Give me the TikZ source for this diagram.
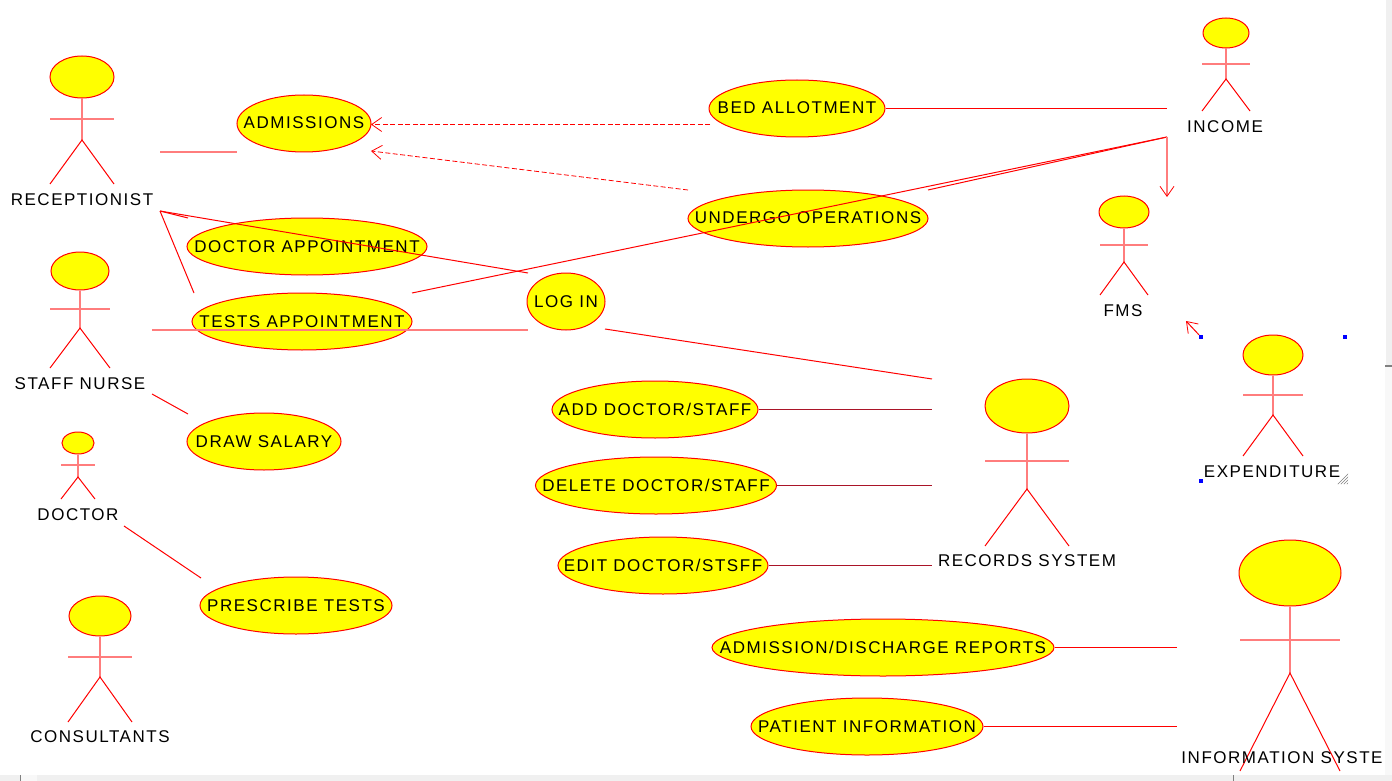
\documentclass[tikz,border=0pt]{standalone}
\usepackage{fontspec}
\setmainfont{Liberation Sans}[LetterSpace=9]
\usetikzlibrary{shapes.geometric,arrows.meta,patterns}
\definecolor{ucred}{RGB}{255,0,0}
\definecolor{ucpink}{RGB}{255,125,125}
\definecolor{ucyellow}{RGB}{255,255,0}
\definecolor{ucdark}{RGB}{170,20,40}
\definecolor{ucblue}{RGB}{0,0,255}
\definecolor{barfill}{RGB}{240,240,240}
\definecolor{barlight}{RGB}{248,248,248}
\tikzset{
  usecase/.style={ellipse,draw=ucred,fill=ucyellow,line width=1pt,inner sep=0pt},
  actorname/.style={inner sep=0pt,text=black},
  wire/.style={ucred,line width=1pt},
  softwire/.style={ucpink,line width=1.6pt},
  darkwire/.style={ucdark,line width=0.8pt},
  dashwire/.style={ucred,line width=0.8pt,dash pattern=on 5pt off 2.5pt},
  openhead/.style={-{Straight Barb[length=10pt,width=14pt,line width=0.8pt,ucred]}},
  handle/.style={fill=ucblue,draw=none,minimum size=4pt,inner sep=0pt}
}
\newcommand{\uclabel}[1]{\raisebox{-5.5pt}[0pt][0pt]{\makebox[0pt]{#1}}}
\newcommand{\actorfig}[9]{% name, x, head y, head rx, head ry, half width, arm y, hip y, feet y
  \node[usecase,minimum width=#4*2pt,minimum height=#5*2pt] (#1) at (#2,#3) {};
  \draw[softwire] (#1.south) -- (#2,#8) (#2-#6,#7) -- (#2+#6,#7);
  \draw[wire] (#2-#6,#9) -- (#2,#8) -- (#2+#6,#9);
}
\begin{document}
\begin{tikzpicture}[x=1pt,y=-1pt,font=\fontsize{17}{20}\selectfont]
  \useasboundingbox (0,0) rectangle (1392,781);
  % window bars
  \fill[barfill] (0,775) rectangle (1392,781);
  \fill[barlight] (20,775) rectangle (37,781);
  \fill[barfill] (1386,0) rectangle (1392,366);
  \fill[barlight] (1385,366) rectangle (1392,775);
  \draw[gray,line width=1.2pt] (1385,366) -- (1392,366);
  \draw[gray,line width=1pt] (20,775) -- (20,781) (1233,775) -- (1233,781);
  % actors
  \actorfig{receptionist}{82}{77}{32}{21}{32}{119}{140}{184}
  \actorfig{nurse}{80}{271}{29}{19}{30}{309}{328}{368}
  \actorfig{doctor}{78}{443}{16}{11}{17}{465}{477}{499}
  \actorfig{consultants}{100}{616}{31}{20}{32}{657}{677}{722}
  \actorfig{income}{1226}{33}{23}{15}{24}{64}{79}{111}
  \actorfig{fms}{1124}{212}{25}{16}{24}{245}{262}{295}
  \actorfig{expenditure}{1273}{355}{30}{20}{30}{395}{415}{456}
  \actorfig{records}{1027}{406}{42}{27}{42}{461}{489}{546}
  \actorfig{information}{1290}{573}{51}{33}{50}{640}{673}{771}
  \node[actorname] (receptionistname) at (82,200) {RECEPTIONIST};
  \node[actorname] (nursename) at (80,384) {STAFF NURSE};
  \node[actorname] (doctorname) at (78,515) {DOCTOR};
  \node[actorname] (consultantsname) at (100,737) {CONSULTANTS};
  \node[actorname] (incomename) at (1225,127) {INCOME};
  \node[actorname] (fmsname) at (1123,311) {FMS};
  \node[actorname] (expenditurename) at (1272,472) {EXPENDITURE};
  \node[actorname] (recordsname) at (1027,561) {RECORDS SYSTEM};
  \node[actorname] (informationname) at (1282,758) {INFORMATION SYSTE};
  % use cases
  \node[usecase,minimum width=134pt,minimum height=57pt] (admissions) at (304,123.5) {\uclabel{ADMISSIONS}};
  \node[usecase,minimum width=176pt,minimum height=57pt] (bed) at (797,108.5) {\uclabel{BED ALLOTMENT}};
  \node[usecase,minimum width=240pt,minimum height=57pt] (operations) at (808,218.5) {\uclabel{UNDERGO OPERATIONS}};
  \node[usecase,minimum width=240pt,minimum height=57pt] (docappt) at (307,246.5) {\uclabel{DOCTOR APPOINTMENT}};
  \node[usecase,minimum width=220pt,minimum height=57pt] (testappt) at (302,321.5) {\uclabel{TESTS APPOINTMENT}};
  \node[usecase,minimum width=78pt,minimum height=57pt] (login) at (566,301.5) {\uclabel{LOG IN}};
  \node[usecase,minimum width=154pt,minimum height=57pt] (salary) at (264,441.5) {\uclabel{DRAW SALARY}};
  \node[usecase,minimum width=192pt,minimum height=57pt] (prescribe) at (296,605.5) {\uclabel{PRESCRIBE TESTS}};
  \node[usecase,minimum width=206pt,minimum height=57pt] (adddoc) at (655,409.5) {\uclabel{ADD DOCTOR/STAFF}};
  \node[usecase,minimum width=241pt,minimum height=57pt] (deldoc) at (656,485.5) {\uclabel{DELETE DOCTOR/STAFF}};
  \node[usecase,minimum width=210pt,minimum height=57pt] (editdoc) at (663,565.5) {\uclabel{EDIT DOCTOR/STSFF}};
  \node[usecase,minimum width=342pt,minimum height=57pt] (reports) at (883,647.5) {\uclabel{ADMISSION/DISCHARGE REPORTS}};
  \node[usecase,minimum width=232pt,minimum height=57pt] (patient) at (867,726.5) {\uclabel{PATIENT INFORMATION}};
  % free ends
  \coordinate (recstub) at (160,152);
  \coordinate (recfoot) at (160,211);
  \coordinate (recbarb) at (188,218);
  \coordinate (logintop) at (528,273);
  \coordinate (testtop) at (194,293);
  \coordinate (nursestub) at (152,330);
  \coordinate (loginleft) at (528,330);
  \coordinate (incomecorner) at (1167,137);
  \coordinate (incomeleft) at (1167,108.5);
  \coordinate (fmstop) at (1167,197);
  \coordinate (testright) at (412,293);
  \coordinate (opright) at (928,190);
  \coordinate (bedleft) at (710,124.5);
  \coordinate (opleft) at (688,190);
  \coordinate (admright) at (371,124.5);
  \coordinate (admlow) at (371,151);
  \coordinate (loginlow) at (605,329);
  \coordinate (rectop) at (932,379);
  \coordinate (recleft) at (932,409.5);
  \coordinate (recmid) at (932,485.5);
  \coordinate (reclow) at (932,565.5);
  \coordinate (infoup) at (1177,647.5);
  \coordinate (infolow) at (1177,726.5);
  \coordinate (nursefoot) at (152,394);
  \coordinate (salarytop) at (188,414);
  \coordinate (docfoot) at (124,526);
  \coordinate (prescribetop) at (201,578);
  \coordinate (fmsfoot) at (1186,321);
  % selection handles
  \node[handle] (handlea) at (1201,337) {};
  \node[handle] (handleb) at (1345,337) {};
  \node[handle] (handlec) at (1201,481) {};
  \fill[pattern=north east lines,pattern color=gray] (1336,484) -- (1348,472) -- (1348,484) -- cycle;
  % connectors
  \begin{scope}[wire]
    \draw (recfoot) -- (logintop);
    \draw (recfoot) -- (recbarb);
    \draw (recfoot) -- (testtop);
    \draw (testright) -- (incomecorner);
    \draw (opright) -- (incomecorner);
    \draw (bed.east) -- (incomeleft);
    \draw (loginlow) -- (rectop);
    \draw (nursefoot) -- (salarytop);
    \draw (docfoot) -- (prescribetop);
    \draw (reports.east) -- (infoup);
    \draw (patient.east) -- (infolow);
    \draw[openhead] (handlea) -- (fmsfoot);
  \end{scope}
  \draw[softwire] (recstub) -- (admissions.west |- recstub);
  \draw[softwire] (nursestub) -- (loginleft);
  \draw[softwire,openhead] (incomecorner) -- (fmstop);
  \draw[dashwire,openhead] (bedleft) -- (admright);
  \draw[dashwire,openhead] (opleft) -- (admlow);
  \begin{scope}[darkwire]
    \draw (adddoc.east) -- (recleft);
    \draw (deldoc.east) -- (recmid);
    \draw (editdoc.east) -- (reclow);
  \end{scope}
\end{tikzpicture}
\end{document}
